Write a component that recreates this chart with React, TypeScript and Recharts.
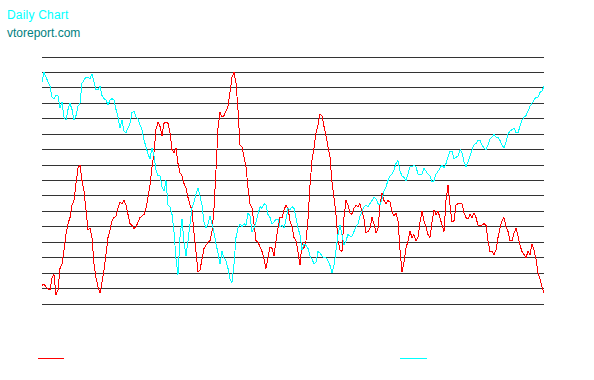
import React from 'react';
import { LineChart, Line, XAxis, YAxis, CartesianGrid } from 'recharts';

// daily closes, one every ~2 trading days
const redSeries = [
  12, 13, 11, 10, 9, 17, 19, 6, 9, 23, 26, 35, 45, 52, 56, 64, 67, 78, 88, 90,
  80, 73, 61, 48, 49, 43, 26, 17, 11, 7, 14, 22, 32, 43, 48, 54, 56, 57, 62, 66,
  65, 67, 64, 58, 52, 51, 49, 50, 53, 56, 57, 58, 62, 69, 77, 89, 98, 113, 118, 115,
  109, 117, 118, 117, 111, 100, 98, 101, 91, 85, 83, 78, 75, 69, 64, 61, 46, 34, 21, 22,
  29, 36, 38, 40, 41, 47, 62, 87, 114, 124, 121, 122, 125, 128, 137, 147, 150, 143, 126, 103,
  102, 95, 89, 75, 65, 62, 52, 41, 40, 37, 34, 29, 23, 30, 37, 36, 31, 41, 49, 56,
  56, 61, 64, 62, 54, 50, 43, 41, 34, 25, 40, 36, 41, 55, 77, 93, 101, 111, 116, 123,
  122, 115, 109, 102, 95, 79, 69, 58, 41, 35, 34, 56, 67, 64, 59, 58, 62, 64, 63, 65,
  60, 55, 46, 47, 49, 56, 52, 46, 49, 64, 72, 67, 65, 67, 66, 60, 57, 59, 54, 35,
  21, 27, 36, 41, 47, 43, 45, 41, 43, 53, 60, 54, 50, 45, 43, 53, 61, 58, 60, 56,
  51, 47, 67, 77, 64, 53, 54, 64, 65, 65, 65, 59, 56, 55, 58, 56, 59, 56, 51, 51,
  51, 52, 51, 41, 34, 34, 32, 35, 43, 49, 54, 56, 50, 47, 41, 41, 46, 49, 44, 38,
  34, 32, 30, 34, 32, 39, 35, 29, 20, 16, 11, 7,
];

const cyanSeries = [
  144, 150, 147, 144, 141, 134, 133, 135, 135, 127, 131, 121, 119, 126, 130, 126, 119, 122, 128, 130,
  143, 145, 147, 147, 146, 149, 144, 139, 139, 141, 135, 133, 132, 129, 132, 133, 132, 126, 121, 114,
  119, 112, 111, 114, 117, 124, 125, 121, 120, 116, 113, 106, 102, 97, 94, 101, 96, 87, 83, 83,
  76, 73, 80, 64, 63, 58, 47, 29, 19, 43, 55, 40, 31, 41, 52, 62, 66, 71, 75, 70,
  64, 53, 49, 52, 57, 52, 46, 39, 33, 26, 34, 30, 28, 23, 16, 14, 26, 43, 49, 52,
  50, 52, 51, 59, 57, 47, 49, 53, 58, 63, 62, 65, 64, 58, 56, 52, 53, 55, 55, 50,
  51, 49, 55, 62, 61, 63, 62, 56, 49, 45, 35, 39, 38, 36, 31, 29, 26, 27, 34, 33,
  31, 30, 30, 28, 25, 20, 25, 35, 45, 51, 45, 38, 41, 45, 44, 44, 47, 50, 52, 57,
  60, 63, 64, 63, 65, 67, 69, 68, 65, 64, 68, 73, 76, 80, 83, 84, 87, 91, 93, 86,
  83, 82, 80, 84, 89, 89, 90, 89, 84, 84, 84, 88, 86, 84, 83, 79, 80, 84, 86, 88,
  90, 88, 91, 95, 99, 99, 94, 95, 96, 100, 98, 92, 89, 92, 96, 100, 103, 104, 106, 106,
  103, 101, 100, 103, 107, 108, 110, 108, 108, 106, 103, 101, 105, 110, 112, 113, 114, 111, 111, 115,
  119, 121, 122, 125, 128, 130, 132, 134, 134, 137, 138, 141,
];

const gridTicks = [0, 10, 20, 30, 40, 50, 60, 70, 80, 90, 100, 110, 120, 130, 140, 150, 160];

const chartData = redSeries.map((v, i) => ({ day: i + 1, red: v, cyan: cyanSeries[i] }));

export default function App() {
  return (
    <div style={{ position: 'relative', width: 594, height: 380, background: '#fff', fontFamily: '"Liberation Sans", Arial, sans-serif' }}>
      <style>{`body { margin: 0; }`}</style>
      <div style={{ position: 'absolute', left: 7, top: 9, fontSize: 12, lineHeight: '12px', letterSpacing: 0.2, color: '#00ffff' }}>Daily Chart</div>
      <div style={{ position: 'absolute', left: 7, top: 27, fontSize: 12, lineHeight: '12px', color: '#008080' }}>vtoreport.com</div>

      <LineChart width={594} height={380} data={chartData} margin={{ top: 57, right: 50, bottom: 76, left: 42 }}>
        <CartesianGrid vertical={false} stroke="#333" strokeWidth={1} shapeRendering="crispEdges" />
        <XAxis dataKey="day" hide />
        <YAxis hide domain={[0, 160]} ticks={gridTicks} interval={0} />
        <Line dataKey="red" stroke="#ff0000" strokeWidth={1} dot={false} isAnimationActive={false} shapeRendering="crispEdges" />
        <Line dataKey="cyan" stroke="#00ffff" strokeWidth={1} dot={false} isAnimationActive={false} shapeRendering="crispEdges" />
      </LineChart>

      {/* legend swatches, no labels in the original */}
      <div style={{ position: 'absolute', left: 38, top: 358, width: 26, height: 1, background: '#ff0000' }} />
      <div style={{ position: 'absolute', left: 400, top: 358, width: 27, height: 1, background: '#00ffff' }} />
    </div>
  );
}
